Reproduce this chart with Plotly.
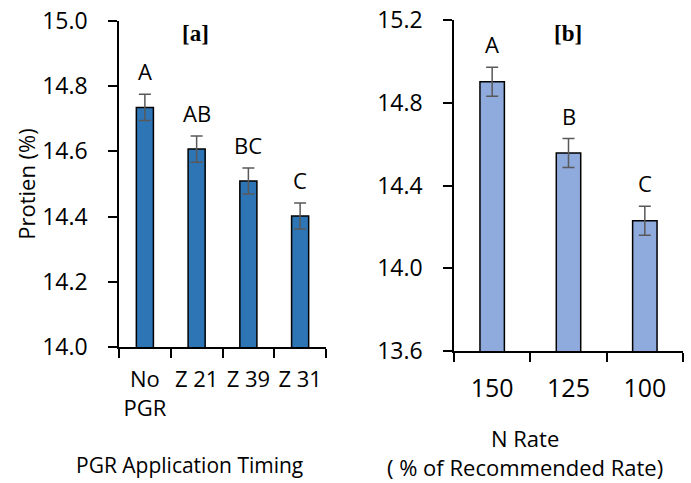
import plotly.graph_objects as go

# Panel a data
pgr_cats = ["No<br>PGR", "Z 21", "Z 39", "Z 31"]
pgr_vals = [14.735, 14.607, 14.509, 14.402]
pgr_err = [0.04, 0.04, 0.04, 0.04]
pgr_letters = ["A", "AB", "BC", "C"]
pgr_title = "PGR Application Timing"

# Panel b data
n_cats = ["150", "125", "100"]
n_vals = [14.902, 14.557, 14.230]
n_err = [0.07, 0.07, 0.07]
n_letters = ["A", "B", "C"]
n_title = "N Rate<br>( % of Recommended Rate)"

FONT = "Open Sans"
W, H = 691, 483
# plot area in pixel coordinates
L_R, T_R, R_R, B_R = 119, 20, 683, 351
ML, MT = L_R, T_R
MR = W - R_R
MB = H - B_R
PW = R_R - L_R
PH = B_R - T_R


def px(x):
    return (x - L_R) / PW


def py(y):
    return (B_R - y) / PH


fig = go.Figure()

fig.add_trace(go.Bar(
    x=pgr_cats, y=pgr_vals, xaxis="x", yaxis="y", width=0.33,
    marker=dict(color="#2E75B6", line=dict(color="#000000", width=1.5)),
    error_y=dict(type="data", array=pgr_err, visible=True, color="#595959", thickness=1.5, width=6),
    showlegend=False,
))
fig.add_trace(go.Bar(
    x=n_cats, y=n_vals, xaxis="x2", yaxis="y2", width=0.32,
    marker=dict(color="#8FAADC", line=dict(color="#000000", width=1.5)),
    error_y=dict(type="data", array=n_err, visible=True, color="#595959", thickness=1.5, width=6),
    showlegend=False,
))

annotations = []
for i, (v, e, t) in enumerate(zip(pgr_vals, pgr_err, pgr_letters)):
    annotations.append(dict(x=i, y=v + e, xref="x", yref="y", text=t, showarrow=False,
                            xanchor="center", yanchor="bottom", yshift=6,
                            font=dict(family=FONT, size=22, color="#000")))
for i, (v, e, t) in enumerate(zip(n_vals, n_err, n_letters)):
    annotations.append(dict(x=i, y=v + e, xref="x2", yref="y2", text=t, showarrow=False,
                            xanchor="center", yanchor="bottom", yshift=6,
                            font=dict(family=FONT, size=22, color="#000")))
annotations.append(dict(x=px(195), y=py(33), xref="paper", yref="paper", text="<b>[a]</b>",
                        xanchor="center", yanchor="middle",
                        showarrow=False, font=dict(family="Liberation Serif", size=23, color="#000")))
annotations.append(dict(x=px(568), y=py(33), xref="paper", yref="paper", text="<b>[b]</b>",
                        xanchor="center", yanchor="middle",
                        showarrow=False, font=dict(family="Liberation Serif", size=23, color="#000")))
# x-axis titles (offset from axis centres as in the original)
annotations.append(dict(x=px(189), y=py(465), xref="paper", yref="paper", text=pgr_title,
                        xanchor="center", yanchor="middle", showarrow=False,
                        font=dict(family=FONT, size=21, color="#000")))
annotations.append(dict(x=px(525), y=py(453), xref="paper", yref="paper", text=n_title,
                        xanchor="center", yanchor="middle", showarrow=False,
                        font=dict(family=FONT, size=22, color="#000")))

axis_common = dict(showline=True, linecolor="#000000", linewidth=1.5, ticks="outside",
                   ticklen=9, tickcolor="#000000", tickwidth=1.5, showgrid=False, zeroline=False,
                   automargin=False, ticklabeloverflow="allow")

fig.update_layout(
    width=W, height=H,
    margin=dict(l=ML, r=MR, t=MT, b=MB),
    paper_bgcolor="white", plot_bgcolor="white",
    xaxis=dict(domain=[0, px(326)], anchor="y", type="category", tickson="boundaries",
               tickangle=0, range=[-0.5, 3.5], ticklabelstandoff=12,
               tickfont=dict(family=FONT, size=22, color="#000"),
               **axis_common),
    yaxis=dict(domain=[py(347), py(21)], anchor="x", range=[14.0, 15.0], dtick=0.2,
               tickformat=".1f", ticklabelstandoff=16,
               tickfont=dict(family=FONT, size=23, color="#000"),
               title=dict(text="Protien (%)", standoff=0, font=dict(family=FONT, size=22, color="#000")),
               **axis_common),
    xaxis2=dict(domain=[px(454), px(683)], anchor="y2", type="category", tickson="boundaries",
                tickangle=0, range=[-0.5, 2.5], ticklabelstandoff=14,
                tickfont=dict(family=FONT, size=25, color="#000"),
                **axis_common),
    yaxis2=dict(domain=[py(351), py(20)], anchor="x2", range=[13.6, 15.2], dtick=0.4,
                tickformat=".1f", ticklabelstandoff=16,
                tickfont=dict(family=FONT, size=23, color="#000"),
                **axis_common),
    annotations=annotations,
)

fig.write_html("out.html", config={"displayModeBar": False},
               post_script="document.body.style.margin='0px';")
